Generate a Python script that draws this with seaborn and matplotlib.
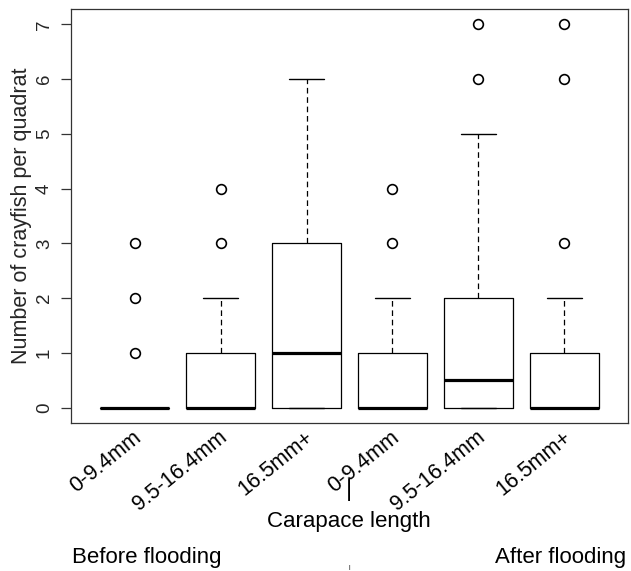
import matplotlib
matplotlib.use("Agg")
import matplotlib.pyplot as plt
import seaborn as sns

# ---- data (summary statistics) ----
categories = ["0-9.4mm", "9.5-16.4mm", "16.5mm+", "0-9.4mm", "9.5-16.4mm", "16.5mm+"]
q1 = [0, 0, 0, 0, 0, 0]
medians = [0, 0, 1, 0, 0.5, 0]
q3 = [0, 1, 3, 1, 2, 1]
whisker_low = [0, 0, 0, 0, 0, 0]
whisker_high = [0, 2, 6, 2, 5, 2]
outliers = [[1, 2, 3], [3, 4], [], [3, 4], [6, 7], [3, 6, 7]]
yticks = [0, 1, 2, 3, 4, 5, 6, 7]

sns.set_theme(style="white")
plt.rcParams["font.family"] = ["Liberation Sans", "DejaVu Sans"]

W, H = 631, 571
fig = plt.figure(figsize=(W / 100, H / 100), dpi=100)
ax = fig.add_axes([71 / W, 1 - 423 / H, (628 - 71) / W, (423 - 9) / H])

stats = []
for i, lab in enumerate(categories):
    stats.append(dict(label=lab, q1=q1[i], med=medians[i], q3=q3[i],
                      whislo=whisker_low[i], whishi=whisker_high[i],
                      fliers=outliers[i]))

positions = list(range(1, len(categories) + 1))
ax.bxp(stats, positions=positions, widths=0.8, capwidths=0.4,
       showfliers=True, patch_artist=False,
       boxprops=dict(color="black", linewidth=0.9),
       medianprops=dict(color="black", linewidth=2.3, solid_capstyle="butt"),
       whiskerprops=dict(color="black", linewidth=0.9, linestyle=(0, (4.5, 3))),
       capprops=dict(color="black", linewidth=1.0),
       flierprops=dict(marker="o", markersize=7, markerfacecolor="none",
                       markeredgecolor="black", markeredgewidth=1.2, linestyle="none"))

ax.set_xlim(0.26, 6.74)
ax.set_ylim(-0.28, 7.28)

for s in ax.spines.values():
    s.set_visible(True)
    s.set_color("#333333")
    s.set_linewidth(0.9)

ax.set_yticks(yticks)
ax.set_yticklabels([str(v) for v in yticks], rotation=90, va="center", fontsize=13.5)
ax.tick_params(axis="y", left=True, length=7, width=0.9, color="#333333", pad=6)
ax.set_xticks([])
ax.set_ylabel("Number of crayfish per quadrat", fontsize=15.5, labelpad=3)

# rotated category labels under each box
for pos, lab in zip(positions, categories):
    ax.annotate(lab, xy=(pos, 0), xycoords=("data", "axes fraction"),
                xytext=(4, -12), textcoords="offset pixels",
                rotation=39, ha="right", va="center", rotation_mode="anchor",
                fontsize=15.5, color="black")

fig.text(349 / W, 1 - 490 / H, "|", ha="center", va="center", fontsize=17, color="black")
fig.text(349 / W, 1 - 521 / H, "Carapace length", ha="center", va="center", fontsize=16, color="black")
fig.text(72 / W, 1 - 558 / H, "Before flooding", ha="left", va="center", fontsize=16, color="black")
fig.text(626 / W, 1 - 558 / H, "After flooding", ha="right", va="center", fontsize=16, color="black")
fig.text(349 / W, 1 - 567 / H, "|", ha="center", va="center", fontsize=4.5, color="black")

fig.savefig("out.png", dpi=100)
